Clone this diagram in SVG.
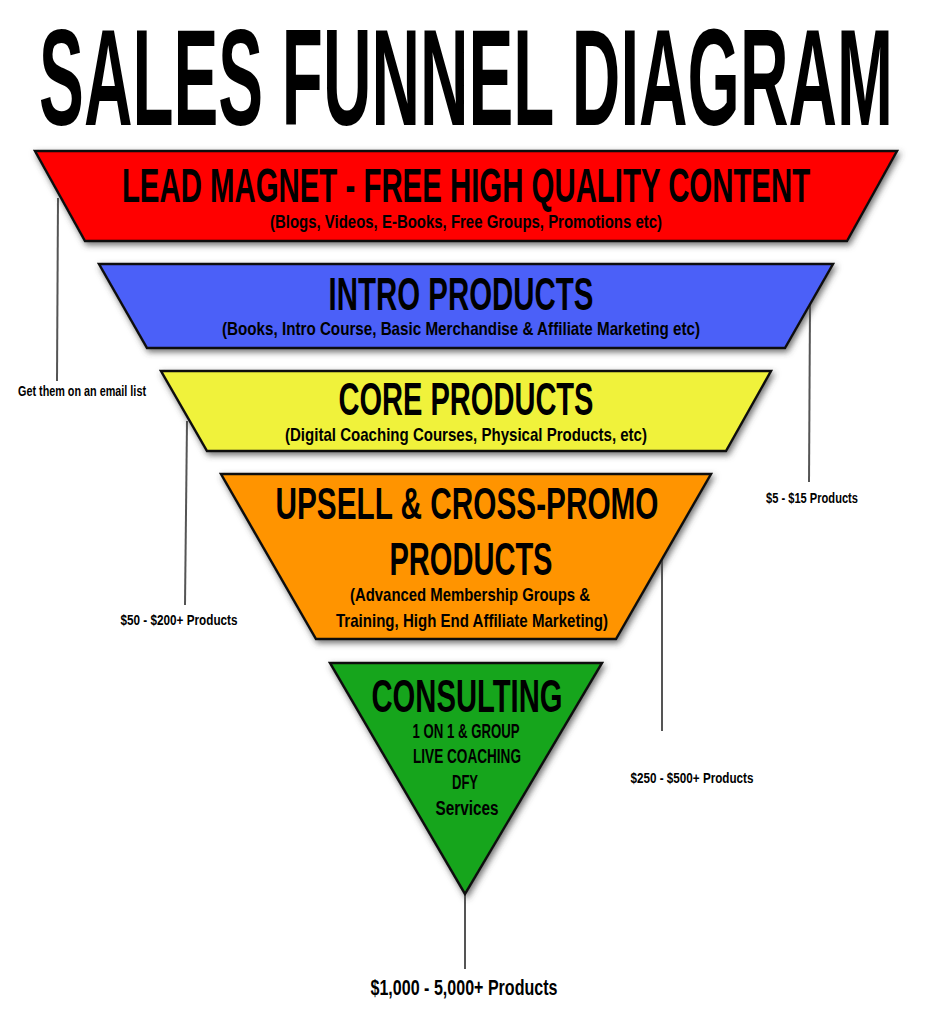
<svg xmlns="http://www.w3.org/2000/svg" width="932" height="1024" viewBox="0 0 932 1024">
<defs>
<filter id="sh" x="-10%" y="-10%" width="120%" height="130%">
<feDropShadow dx="2" dy="3" stdDeviation="3" flood-color="#444" flood-opacity="0.75"/>
</filter>
<style>
text{font-family:"Liberation Sans Narrow","Liberation Sans","DejaVu Sans Condensed",sans-serif;font-weight:bold;fill:#000;text-anchor:middle}
.stage{stroke:#111;stroke-width:2.5;stroke-linejoin:miter;filter:url(#sh)}
.conn line{stroke:#555;stroke-width:2}
.lbl{font-size:15px}
</style>
</defs>
<rect width="932" height="1024" fill="#fff"/>
<text transform="translate(466,125) scale(0.486,1)" x="0" y="0" font-size="138" textLength="1757" lengthAdjust="spacingAndGlyphs">SALES FUNNEL DIAGRAM</text>

<g class="conn">
<line x1="58" y1="198" x2="57" y2="381"/>
<line x1="810" y1="305" x2="809" y2="482"/>
<line x1="187" y1="421" x2="185" y2="605"/>
<line x1="662" y1="558" x2="662" y2="731"/>
<line x1="465" y1="894" x2="465" y2="969"/>
</g>

<g id="lead-magnet">
<polygon class="stage" points="35,151 897,151 847,241 85,241" fill="#FF0000"/>
<text transform="translate(466,202) scale(0.599,1)" x="0" y="0" font-size="48" textLength="1149" lengthAdjust="spacingAndGlyphs">LEAD MAGNET - FREE HIGH QUALITY CONTENT</text>
<text x="466" y="228" font-size="18" textLength="392" lengthAdjust="spacingAndGlyphs">(Blogs, Videos, E-Books, Free Groups, Promotions etc)</text>
</g>

<g id="intro-products">
<polygon class="stage" points="99,264 833,264 785,348 147,348" fill="#4B60F8"/>
<text x="461" y="310" font-size="46" textLength="265" lengthAdjust="spacingAndGlyphs">INTRO PRODUCTS</text>
<text x="461" y="335" font-size="19" textLength="478" lengthAdjust="spacingAndGlyphs">(Books, Intro Course, Basic Merchandise &amp; Affiliate Marketing etc)</text>
</g>

<g id="core-products">
<polygon class="stage" points="161,371 771,371 726,451 207,451" fill="#F0F23A"/>
<text x="466" y="415" font-size="47" textLength="255" lengthAdjust="spacingAndGlyphs">CORE PRODUCTS</text>
<text x="466" y="441" font-size="19" textLength="362" lengthAdjust="spacingAndGlyphs">(Digital Coaching Courses, Physical Products, etc)</text>
</g>

<g id="upsell">
<polygon class="stage" points="221,474 711,474 616,639 316,639" fill="#FF9400"/>
<text x="467" y="519" font-size="45" textLength="383" lengthAdjust="spacingAndGlyphs">UPSELL &amp; CROSS-PROMO</text>
<text x="471" y="575" font-size="46" textLength="163" lengthAdjust="spacingAndGlyphs">PRODUCTS</text>
<text x="470" y="601" font-size="19" textLength="240" lengthAdjust="spacingAndGlyphs">(Advanced Membership Groups &amp;</text>
<text x="472" y="627" font-size="19" textLength="272" lengthAdjust="spacingAndGlyphs">Training, High End Affiliate Marketing)</text>
</g>

<g id="consulting">
<polygon class="stage" points="330,663 602,663 465,894" fill="#17A51D"/>
<text x="467" y="712" font-size="47" textLength="191" lengthAdjust="spacingAndGlyphs">CONSULTING</text>
<text x="466" y="738" font-size="20" textLength="107" lengthAdjust="spacingAndGlyphs">1 ON 1 &amp; GROUP</text>
<text x="467" y="763" font-size="20" textLength="108" lengthAdjust="spacingAndGlyphs">LIVE COACHING</text>
<text x="465" y="789" font-size="20" textLength="26" lengthAdjust="spacingAndGlyphs">DFY</text>
<text x="467" y="815" font-size="20" textLength="63" lengthAdjust="spacingAndGlyphs">Services</text>
</g>

<g id="labels">
<text class="lbl" x="82" y="396" textLength="128" lengthAdjust="spacingAndGlyphs">Get them on an email list</text>
<text class="lbl" x="812" y="503" textLength="92" lengthAdjust="spacingAndGlyphs">$5 - $15 Products</text>
<text class="lbl" x="179" y="625" textLength="117" lengthAdjust="spacingAndGlyphs">$50 - $200+ Products</text>
<text class="lbl" x="692" y="783" textLength="123" lengthAdjust="spacingAndGlyphs">$250 - $500+ Products</text>
<text x="464" y="995" font-size="22" textLength="187" lengthAdjust="spacingAndGlyphs">$1,000 - 5,000+ Products</text>
</g>
</svg>
